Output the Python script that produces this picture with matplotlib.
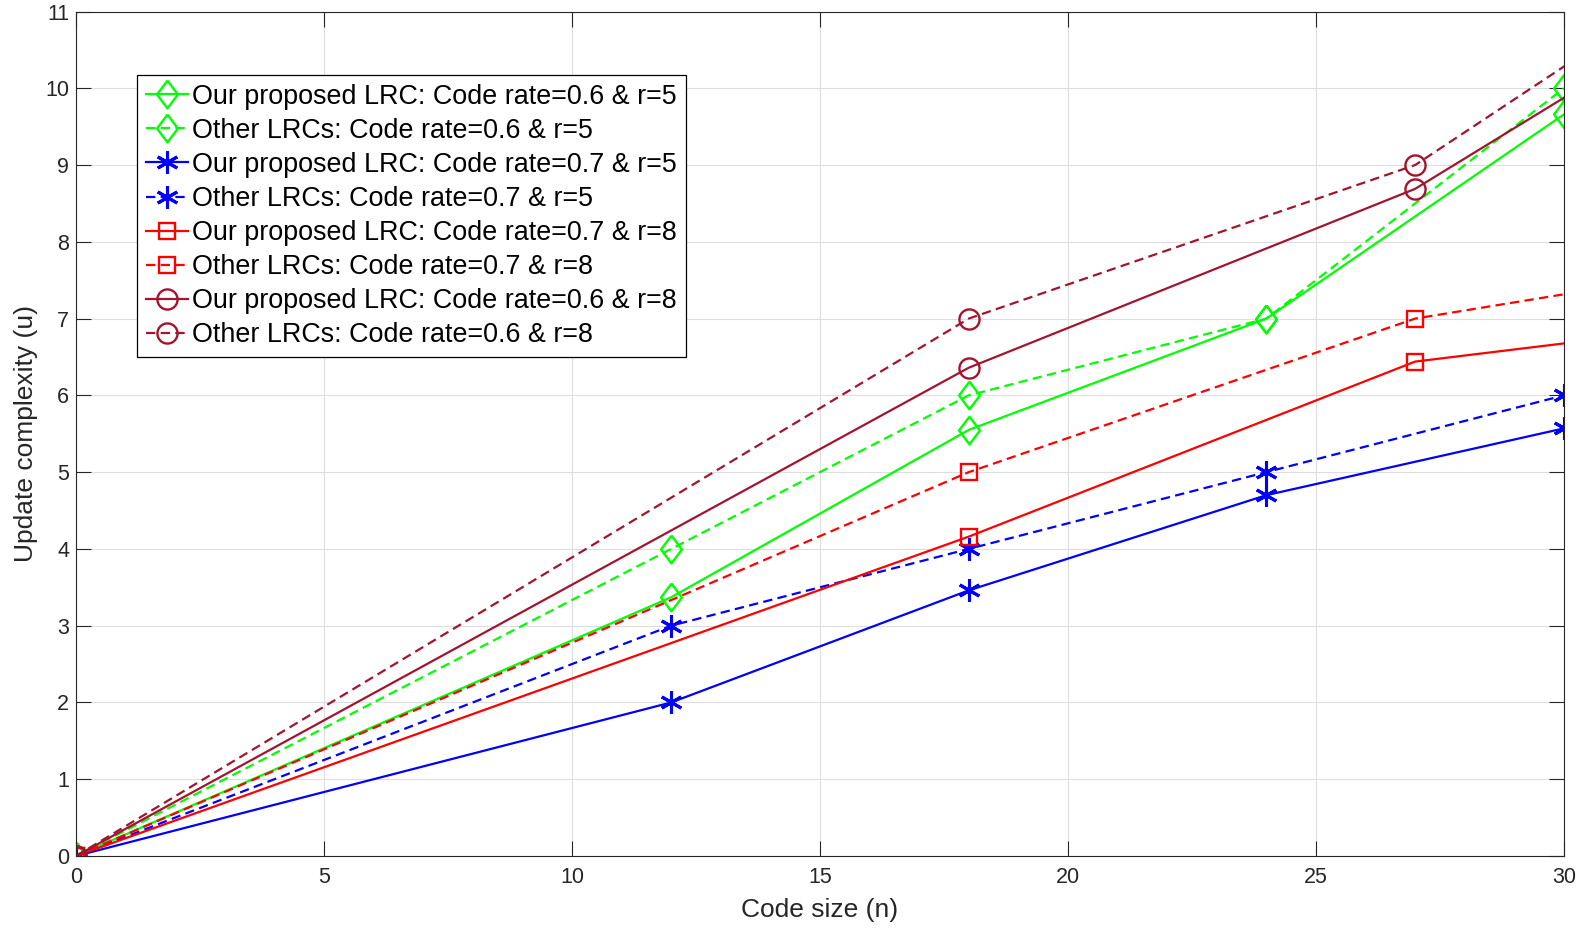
import numpy as np
import matplotlib
matplotlib.use("Agg")
import matplotlib.pyplot as plt

plt.rcParams['font.family'] = ['Liberation Sans', 'DejaVu Sans']

# r=5 codes (n = 0, 12, 18, 24, 30)
n_r5 = [0, 12, 18, 24, 30]
ours_06_r5 = [0, 3.37, 5.55, 7.0, 9.66]
other_06_r5 = [0, 4.0, 6.0, 7.0, 10.0]
ours_07_r5 = [0, 2.0, 3.46, 4.70, 5.57]
other_07_r5 = [0, 3.0, 4.0, 5.0, 6.0]

# r=8 codes (n = 0, 18, 27, 36) -- last point lies beyond the x-limit
n_r8 = [0, 18, 27, 36]
ours_07_r8 = [0, 4.16, 6.44, 7.15]
other_07_r8 = [0, 5.0, 7.0, 7.95]
ours_06_r8 = [0, 6.36, 8.69, 12.25]
other_06_r8 = [0, 7.0, 9.0, 12.85]

labels = [
    "Our proposed LRC: Code rate=0.6 & r=5",
    "Other LRCs: Code rate=0.6 & r=5",
    "Our proposed LRC: Code rate=0.7 & r=5",
    "Other LRCs: Code rate=0.7 & r=5",
    "Our proposed LRC: Code rate=0.7 & r=8",
    "Other LRCs: Code rate=0.7 & r=8",
    "Our proposed LRC: Code rate=0.6 & r=8",
    "Other LRCs: Code rate=0.6 & r=8",
]

green = '#00ff00'
blue = '#0000ff'
red = '#ff0000'
dred = '#a2142f'
axcol = '#262626'

diamond = [(0, 1), (0.75, 0), (0, -1), (-0.75, 0), (0, 1)]
star = (6, 2, 0)

# x, y, colour, linestyle, marker, marker size, marker edge width
series = [
    (n_r5, ours_06_r5, green, '-', diamond, 20, 1.7),
    (n_r5, other_06_r5, green, '--', diamond, 20, 1.7),
    (n_r5, ours_07_r5, blue, '-', star, 16, 2.2),
    (n_r5, other_07_r5, blue, '--', star, 16, 2.2),
    (n_r8, ours_07_r8, red, '-', 's', 12, 1.7),
    (n_r8, other_07_r8, red, '--', 's', 12, 1.7),
    (n_r8, ours_06_r8, dred, '-', 'o', 14.5, 1.7),
    (n_r8, other_06_r8, dred, '--', 'o', 14.5, 1.7),
]

fig = plt.figure(figsize=(15.86, 9.35), dpi=100)
ax = fig.add_axes([0.0479, 0.0845, 0.9382, 0.9032])

for (x, y, c, ls, mk, ms, mew), lab in zip(series, labels):
    line, = ax.plot(x, y, color=c, linestyle=ls, marker=mk, markersize=ms,
                    markerfacecolor='none', markeredgecolor=c, markeredgewidth=mew,
                    linewidth=1.6, label=lab)
    if ls == '--':
        line.set_dashes((4.2, 2.4))

ax.set_xlim(0, 30)
ax.set_ylim(0, 11)
ax.set_xticks(np.arange(0, 31, 5))
ax.set_yticks(np.arange(0, 12, 1))
ax.grid(True, color='#dedede', linewidth=0.8)
ax.set_axisbelow(True)

for sp in ax.spines.values():
    sp.set_color(axcol)
    sp.set_linewidth(0.8)
ax.tick_params(direction='in', length=10.7, width=0.8, colors=axcol,
               labelsize=15.5, top=True, right=True, pad=5)
ax.tick_params(axis='x', pad=8)

ax.set_xlabel("Code size (n)", fontsize=19, color=axcol, labelpad=7)
ax.set_ylabel("Update complexity (u)", fontsize=19, color=axcol, labelpad=5)

leg = ax.legend(loc='upper left', bbox_to_anchor=(0.041, 0.925), fontsize=19.4,
                frameon=True, fancybox=False, edgecolor='black', framealpha=1,
                handlelength=1.56, handletextpad=0.17, borderpad=0.33,
                labelspacing=0.3, borderaxespad=0)
leg.get_frame().set_linewidth(0.9)

fig.savefig("out.png", dpi=100)
